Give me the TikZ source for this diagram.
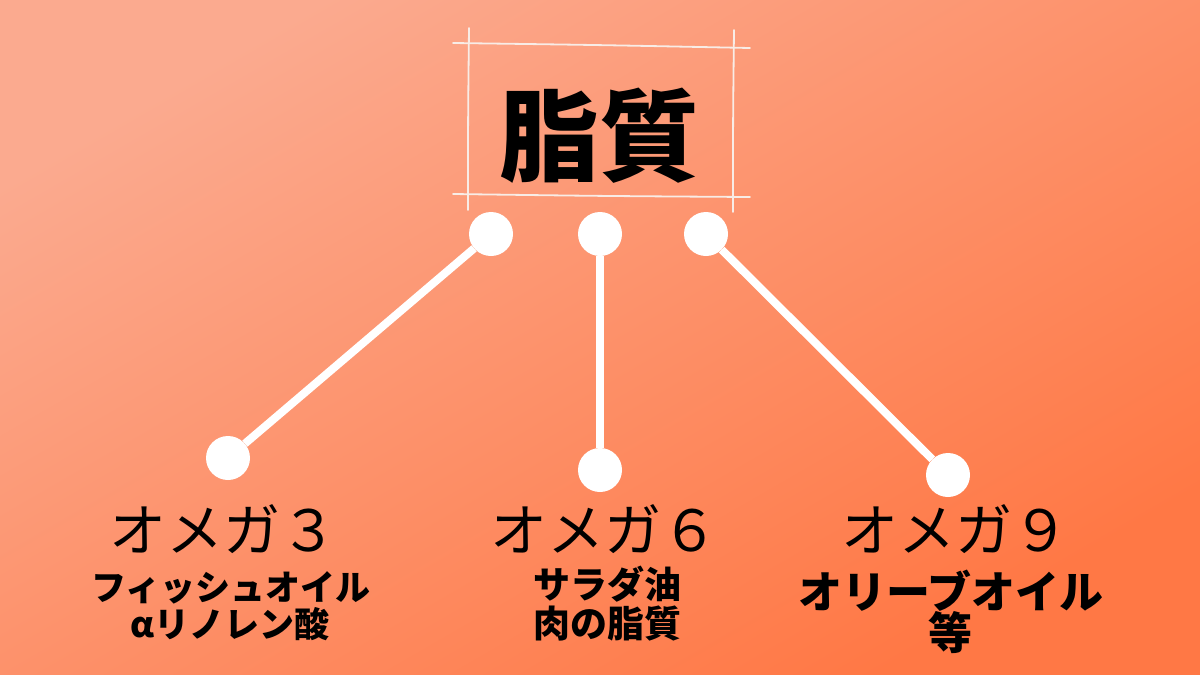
\documentclass[tikz,border=0pt]{standalone}
\usepackage{fontspec}
\newfontfamily\jp{Noto Sans CJK JP}
\definecolor{bgA}{HTML}{FBAA8F}
\definecolor{bgB}{HTML}{FF7845}
\definecolor{sketch}{HTML}{F8ECE6}
\tikzset{
  dot/.style={circle, fill=white, draw=none, minimum size=44pt, inner sep=0pt},
  link/.style={white, line width=8pt},
  sk/.style={sketch, line width=1.8pt, line cap=round},
  head/.style={font=\jp\fontsize{57}{64}\selectfont, text=black, inner sep=0pt},
  sub/.style={font=\jp\bfseries\fontsize{35}{40}\selectfont, text=black, inner sep=0pt, align=center},
}
\begin{document}
\begin{tikzpicture}[x=1pt,y=-1pt]
\useasboundingbox (0,0) rectangle (1200,675);
\shade[top color=bgA, bottom color=bgB, shading angle=30] (0,0) rectangle (1200,675);
% sketchy title frame
\draw[sk] (453,43) .. controls (600,45) .. (750,48);
\draw[sk] (453,194) .. controls (600,196) .. (750,197);
\draw[sk] (469,28) .. controls (468,120) .. (468,210);
\draw[sk] (734,30) .. controls (733,120) .. (733,212);
\node[font=\jp\bfseries\fontsize{100}{110}\selectfont, text=black, inner sep=0pt] (title) at (599,136) {脂質};
% dots
\node[dot] (t1) at (491,234) {};
\node[dot] (t2) at (600,234) {};
\node[dot] (t3) at (706,234) {};
\node[dot] (b1) at (228,458) {};
\node[dot] (b2) at (600,470) {};
\node[dot] (b3) at (948,475) {};
\draw[link] (t1) -- (b1);
\draw[link] (t2) -- (b2);
\draw[link] (t3) -- (b3);
% labels
\node[head] (h1) at (223,529) {オメガ３};
\node[head] (h2) at (604,529) {オメガ６};
\node[head] (h3) at (955,529) {オメガ９};
\node[sub] (s1a) at (231,588) {フィッシュオイル};
\node[sub] (s1b) at (230,624) {αリノレン酸};
\node[sub, font=\jp\bfseries\fontsize{37}{42}\selectfont] (s2a) at (607,584) {サラダ油};
\node[sub, font=\jp\bfseries\fontsize{37}{42}\selectfont] (s2b) at (607,624) {肉の脂質};
\node[sub, font=\jp\bfseries\fontsize{44}{50}\selectfont] (s3a) at (951,591) {オリーブオイル};
\node[sub, font=\jp\bfseries\fontsize{44}{50}\selectfont] (s3b) at (950,633) {等};
\end{tikzpicture}
\end{document}
